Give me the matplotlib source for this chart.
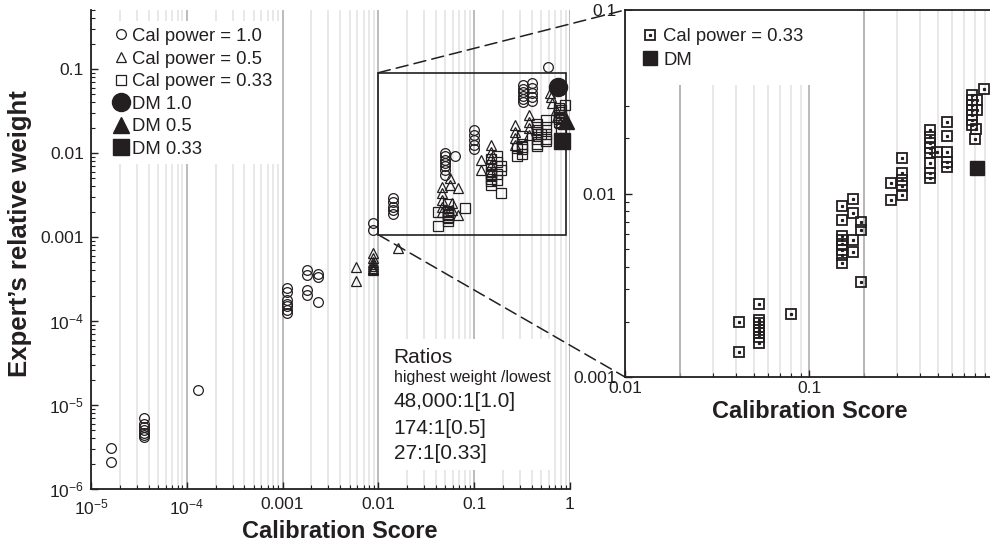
import matplotlib
matplotlib.use("Agg")
import matplotlib.pyplot as plt
from matplotlib.lines import Line2D
from matplotlib.patches import Rectangle, ConnectionPatch
from matplotlib.ticker import LogLocator, FixedLocator, FixedFormatter, NullFormatter

plt.rcParams['font.family'] = ['Liberation Sans', 'DejaVu Sans']
plt.rcParams['mathtext.fontset'] = 'custom'
plt.rcParams['mathtext.rm'] = 'Liberation Sans'

# ---------------- data ----------------
# Cal power = 1.0 (open circles)
circle_x = [1.6e-5, 1.6e-5,
            3.6e-5, 3.6e-5, 3.6e-5, 3.6e-5, 3.6e-5, 3.6e-5, 3.6e-5,
            1.3e-4,
            1.1e-3, 1.1e-3, 1.1e-3, 1.1e-3, 1.1e-3, 1.1e-3, 1.1e-3,
            1.8e-3, 1.8e-3, 1.8e-3, 1.8e-3,
            2.35e-3, 2.35e-3, 2.35e-3,
            0.0088, 0.0088,
            0.0143, 0.0143, 0.0143, 0.0143, 0.0143,
            0.050, 0.050, 0.050, 0.050, 0.050, 0.050, 0.050,
            0.063,
            0.10, 0.10, 0.10, 0.10, 0.10,
            0.32, 0.32, 0.32, 0.32, 0.32, 0.32,
            0.40, 0.40, 0.40, 0.40, 0.40,
            0.59]
circle_y = [3.1e-6, 2.1e-6,
            7.0e-6, 6.0e-6, 5.5e-6, 5.1e-6, 4.7e-6, 4.4e-6, 4.2e-6,
            1.5e-5,
            2.5e-4, 2.2e-4, 1.8e-4, 1.6e-4, 1.5e-4, 1.35e-4, 1.25e-4,
            4.0e-4, 3.5e-4, 2.35e-4, 2.05e-4,
            3.6e-4, 3.3e-4, 1.7e-4,
            0.00147, 0.0012,
            0.0029, 0.0026, 0.0023, 0.0021, 0.0019,
            0.0099, 0.0091, 0.0083, 0.0076, 0.0069, 0.0062, 0.0054,
            0.0091,
            0.0187, 0.0164, 0.0143, 0.0125, 0.0110,
            0.064, 0.058, 0.053, 0.048, 0.044, 0.040,
            0.067, 0.059, 0.052, 0.046, 0.041,
            0.105]

# Cal power = 0.5 (open triangles)
tri_x = [0.0059, 0.0059,
         0.0088, 0.0088, 0.0088, 0.0088, 0.0088, 0.0088, 0.0088, 0.0088,
         0.016,
         0.046, 0.046, 0.046, 0.046, 0.046,
         0.056, 0.056, 0.058, 0.058,
         0.067, 0.067,
         0.119, 0.119,
         0.151, 0.151, 0.151, 0.151, 0.151,
         0.267, 0.267, 0.267, 0.267,
         0.369, 0.369, 0.369, 0.369,
         0.62, 0.627, 0.65, 0.706, 0.74, 0.795]
tri_y = [0.00044, 0.00030,
         0.00065, 0.00056, 0.00050, 0.00047, 0.00045, 0.00043, 0.00041, 0.00040,
         0.00074,
         0.00395, 0.00329, 0.00274, 0.00228, 0.00199,
         0.00497, 0.00414, 0.00250, 0.00208,
         0.00378, 0.00182,
         0.0082, 0.0062,
         0.0124, 0.0103, 0.0086, 0.0072, 0.0059,
         0.0214, 0.0179, 0.0149, 0.0124,
         0.0282, 0.0235, 0.0196, 0.0163,
         0.052, 0.0466, 0.0388, 0.0323, 0.027, 0.0224]

# Cal power = 0.33 (open squares)
sq_x = [0.0417, 0.0417,
        0.0537, 0.0537, 0.0537, 0.0537, 0.0537, 0.0537, 0.0537, 0.0537,
        0.0794,
        0.151, 0.151, 0.151, 0.151, 0.151, 0.151, 0.151, 0.151,
        0.174, 0.174, 0.174, 0.174,
        0.191, 0.191, 0.191,
        0.278, 0.278,
        0.319, 0.319, 0.319, 0.319, 0.319,
        0.455, 0.455, 0.455, 0.455, 0.455, 0.455, 0.455, 0.455,
        0.494,
        0.56, 0.56, 0.56, 0.56, 0.56,
        0.766, 0.766, 0.766, 0.766, 0.766, 0.766, 0.766,
        0.815, 0.815, 0.81, 0.80,
        0.89]
sq_y = [0.00199, 0.00136,
        0.00249, 0.00205, 0.00196, 0.00188, 0.00180, 0.00174, 0.00166, 0.00153,
        0.00221,
        0.0085, 0.0072, 0.0059, 0.0056, 0.0053, 0.0049, 0.0046, 0.0042,
        0.0093, 0.0078, 0.0056, 0.0048,
        0.0070, 0.0063, 0.0033,
        0.0114, 0.0092,
        0.0157, 0.0129, 0.0119, 0.0110, 0.0098,
        0.0222, 0.0204, 0.0188, 0.0176, 0.0166, 0.0146, 0.0129, 0.0121,
        0.0169,
        0.0244, 0.0206, 0.0168, 0.0148, 0.0140,
        0.0344, 0.0323, 0.0304, 0.0285, 0.0268, 0.0251, 0.0236,
        0.0323, 0.0285, 0.0224, 0.0197,
        0.037]

# Decision maker points
dm_labels = ['DM 1.0', 'DM 0.5', 'DM 0.33']
dm_x = [0.745, 0.90, 0.82]
dm_y = [0.0605, 0.024, 0.0137]

series_labels = ['Cal power = 1.0', 'Cal power = 0.5', 'Cal power = 0.33']

left_xticks = [1e-5, 1e-4, 1e-3, 1e-2, 1e-1, 1]
left_xticklabels = [r'$\mathregular{10^{-5}}$', r'$\mathregular{10^{-4}}$', '0.001', '0.01', '0.1', '1']
left_yticks = [1e-6, 1e-5, 1e-4, 1e-3, 1e-2, 1e-1]
left_yticklabels = [r'$\mathregular{10^{-6}}$', r'$\mathregular{10^{-5}}$', r'$\mathregular{10^{-4}}$', '0.001', '0.01', '0.1']
right_xticks = [0.01, 0.1]
right_xticklabels = ['0.01', '0.1']
right_yticks = [0.001, 0.01, 0.1]
right_yticklabels = ['0.001', '0.01', '0.1']

ratio_title = 'Ratios'
ratio_sub = 'highest weight /lowest'
ratio_lines = ['48,000:1[1.0]', '174:1[0.5]', '27:1[0.33]']

zoom_box = (0.01, 0.00106, 0.9, 0.09)   # x0, y0, x1, y1 of inset frame
emph_lines = [0.02, 0.2]

# ---------------- style ----------------
ink = '#231f20'
grid_minor = '#e2e2e2'
grid_major = '#a9a9a9'

fig = plt.figure(figsize=(9.9, 5.43), dpi=100)
W, H = 990.0, 543.0
ax1 = fig.add_axes([91 / W, 54 / H, 479 / W, 479 / H])
ax2 = fig.add_axes([625 / W, 166 / H, 368 / W, 367 / H])


def style_axis(ax, xlim, ylim):
    ax.set_xscale('log')
    ax.set_yscale('log')
    ax.set_xlim(*xlim)
    ax.set_ylim(*ylim)
    for a in (ax.xaxis, ax.yaxis):
        a.set_minor_locator(LogLocator(base=10, subs=range(2, 10), numticks=100))
        a.set_minor_formatter(NullFormatter())
    ax.tick_params(which='both', direction='in', colors=ink, labelcolor=ink)
    ax.tick_params(which='major', length=5, width=1.0)
    ax.tick_params(which='minor', length=3, width=0.8)
    ax.set_axisbelow(True)
    ax.xaxis.grid(True, which='major', color=grid_major, lw=1.1)
    ax.xaxis.grid(True, which='minor', color=grid_minor, lw=1.1)
    ax.yaxis.grid(False, which='both')
    for s in ax.spines.values():
        s.set_color(ink)
        s.set_linewidth(1.3)


# ---------------- left panel ----------------
style_axis(ax1, (1e-5, 1), (1e-6, 0.502))
ax1.spines['top'].set_visible(False)
ax1.spines['right'].set_visible(False)
ax1.xaxis.set_major_locator(FixedLocator(left_xticks))
ax1.xaxis.set_major_formatter(FixedFormatter(left_xticklabels))
ax1.yaxis.set_major_locator(FixedLocator(left_yticks))
ax1.yaxis.set_major_formatter(FixedFormatter(left_yticklabels))
ax1.tick_params(axis='x', labelsize=12.5, pad=6)
ax1.tick_params(axis='y', labelsize=12.5, pad=5)

mk = dict(ls='none', mfc='none', mec=ink, mew=0.9, clip_on=False)
ax1.plot(circle_x, circle_y, marker='o', ms=7, zorder=2, **mk)
ax1.plot(tri_x, tri_y, marker='^', ms=7.5, zorder=2, **mk)
ax1.plot(sq_x, sq_y, marker='s', ms=6.5, zorder=2, **mk)
dm_markers = ['o', '^', 's']
dm_sizes = [13, 12, 11]
for xv, yv, m, s in zip(dm_x, dm_y, dm_markers, dm_sizes):
    ax1.plot([xv], [yv], marker=m, ms=s, ls='none', color=ink, zorder=3, clip_on=False)

ax1.add_patch(Rectangle((zoom_box[0], zoom_box[1]), zoom_box[2] - zoom_box[0],
                        zoom_box[3] - zoom_box[1], fill=False, edgecolor=ink,
                        lw=1.2, zorder=2.5))

ax1.set_xlabel('Calibration Score', fontsize=17, fontweight='bold', color=ink)
ax1.xaxis.set_label_coords(0.52, -0.064)
ax1.set_ylabel('Expert\u2019s relative weight', fontsize=18.5, fontweight='bold', color=ink)
ax1.yaxis.set_label_coords(-0.123, 0.534)

# legend (left)
small = dict(ls='none', mfc='none', mec=ink, mew=0.9)
handles1 = [Line2D([], [], marker='o', ms=7, **small),
            Line2D([], [], marker='^', ms=7.5, **small),
            Line2D([], [], marker='s', ms=6.5, **small)]
for m, s in zip(dm_markers, dm_sizes):
    handles1.append(Line2D([], [], marker=m, ms=s, ls='none', color=ink))
leg1 = ax1.legend(handles1, series_labels + dm_labels, loc='upper left',
                  bbox_to_anchor=(0.033, 0.976), borderaxespad=0, borderpad=0.35,
                  handlelength=0.8, handletextpad=0.2, labelspacing=0.3,
                  fontsize=13.3, frameon=True, fancybox=False, framealpha=1,
                  facecolor='white', edgecolor='none')
for t in leg1.get_texts():
    t.set_color(ink)

# ratio text box
ax1.add_patch(Rectangle((0.614, 0.040), 0.348, 0.273, transform=ax1.transAxes,
                        facecolor='white', edgecolor='none', zorder=3))
tx = 0.632
ax1.text(tx, 0.2735, ratio_title, transform=ax1.transAxes, fontsize=15, color=ink,
         va='center', ha='left', zorder=4)
ax1.text(tx, 0.232, ratio_sub, transform=ax1.transAxes, fontsize=11.5, color=ink,
         va='center', ha='left', zorder=4)
for yv, line in zip([0.182, 0.127, 0.075], ratio_lines):
    ax1.text(tx, yv, line, transform=ax1.transAxes, fontsize=15, color=ink,
             va='center', ha='left', zorder=4)

# ---------------- right panel ----------------
style_axis(ax2, (0.01, 1), (0.001, 0.1))
ax2.spines['right'].set_visible(False)
ax2.xaxis.set_major_locator(FixedLocator(right_xticks))
ax2.xaxis.set_major_formatter(FixedFormatter(right_xticklabels))
ax2.yaxis.set_major_locator(FixedLocator(right_yticks))
ax2.yaxis.set_major_formatter(FixedFormatter(right_yticklabels))
ax2.tick_params(axis='x', labelsize=12.5, pad=3)
ax2.tick_params(axis='y', labelsize=12.5, pad=6)
for v in emph_lines:
    ax2.axvline(v, color=grid_major, lw=1.1, zorder=0.6)

ax2.plot(sq_x, sq_y, marker='s', ms=7.8, ls='none', mfc='none', mec=ink,
         mew=1.3, zorder=2)
ax2.plot(sq_x, sq_y, marker='s', ms=1.3, ls='none', color=ink, zorder=2.1)
ax2.plot([dm_x[2]], [dm_y[2]], marker='s', ms=9.5, ls='none', color=ink, zorder=3)

ax2.set_xlabel('Calibration Score', fontsize=17, fontweight='bold', color=ink)
ax2.xaxis.set_label_coords(0.503, -0.062)

h_sq = (Line2D([], [], marker='s', ms=7.8, ls='none', mfc='none', mec=ink, mew=1.3),
        Line2D([], [], marker='s', ms=1.3, ls='none', color=ink))
h_dm = Line2D([], [], marker='s', ms=9.5, ls='none', color=ink)
leg2 = ax2.legend([h_sq, h_dm], [series_labels[2], 'DM'], loc='upper left',
                  bbox_to_anchor=(0.004, 0.996), borderaxespad=0, borderpad=0.9,
                  handlelength=0.8, handletextpad=0.3, labelspacing=0.36,
                  fontsize=13.3, frameon=True, fancybox=False, framealpha=1,
                  facecolor='white', edgecolor='none')
for t in leg2.get_texts():
    t.set_color(ink)

# ---------------- zoom connectors ----------------
dash = dict(color=ink, lw=1.1, linestyle=(0, (8, 4)), zorder=5)
con_top = ConnectionPatch(xyA=(zoom_box[0], zoom_box[3]), coordsA=ax1.transData,
                          xyB=(0, 1), coordsB=ax2.transAxes, **dash)
con_bot = ConnectionPatch(xyA=(zoom_box[0], zoom_box[1]), coordsA=ax1.transData,
                          xyB=(0, 0), coordsB=ax2.transAxes, **dash)
fig.add_artist(con_top)
fig.add_artist(con_bot)

fig.savefig('out.png', dpi=100, facecolor='white')
